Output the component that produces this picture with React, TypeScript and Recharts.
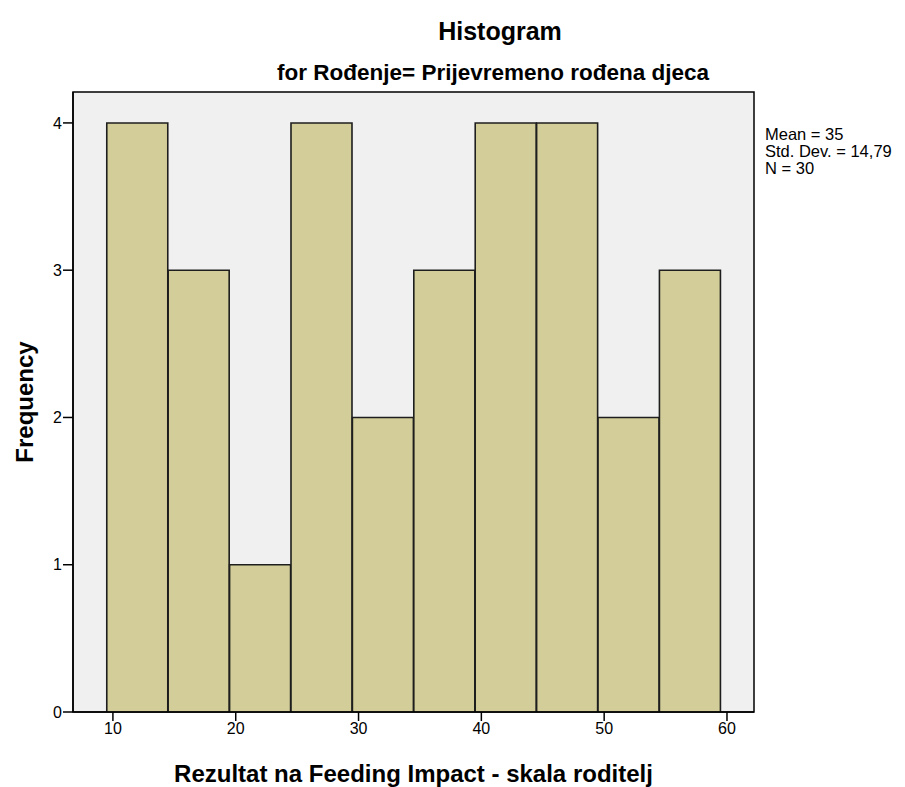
import { BarChart, Bar, XAxis, YAxis, CartesianGrid, ReferenceArea } from 'recharts';

// bin midpoints (width 5, from 9.5 to 59.5) and their counts
const binMids = [12, 17, 22, 27, 32, 37, 42, 47, 52, 57];
const counts = [4, 3, 1, 4, 2, 3, 4, 4, 2, 3];
const xTicks = [10, 20, 30, 40, 50, 60];
const yTicks = [0, 1, 2, 3, 4];
const statLines = ['Mean = 35', 'Std. Dev. = 14,79', 'N = 30'];

const X_DOMAIN: [number, number] = [6.75, 62.2];
const Y_DOMAIN: [number, number] = [0, 4.21];

const FONT = '"Liberation Sans", Arial, sans-serif';

const data = binMids.map((mid, i) => ({ mid, count: counts[i] }));

export default function App() {
    return (
        <div style={{ position: 'absolute', left: 0, top: 0, width: 905, height: 787, background: '#fff', fontFamily: FONT }}>
            <div style={{ position: 'absolute', left: 0, width: 1000, top: 17, textAlign: 'center', fontSize: 25, fontWeight: 'bold' }}>
                Histogram
            </div>
            <div style={{ position: 'absolute', left: 0, width: 986, top: 60, textAlign: 'center', fontSize: 22.5, fontWeight: 'bold' }}>
                for Rođenje= Prijevremeno rođena djeca
            </div>
            <div style={{ position: 'absolute', left: 765, top: 126, fontSize: 16.5, lineHeight: '17px', whiteSpace: 'nowrap' }}>
                {statLines.map((s) => (
                    <div key={s}>{s}</div>
                ))}
            </div>
            <div style={{ position: 'absolute', left: 0, top: 0 }}>
                <BarChart
                    width={905}
                    height={787}
                    data={data}
                    margin={{ top: 92, right: 151, bottom: 0, left: 0 }}
                    barCategoryGap={0}
                    barGap={0}
                >
                    <CartesianGrid fill="#F0F0F0" horizontal={false} vertical={false} />
                    <XAxis
                        dataKey="mid"
                        type="number"
                        domain={X_DOMAIN}
                        ticks={xTicks}
                        allowDataOverflow
                        height={75}
                        stroke="#000"
                        tickSize={9}
                        tickMargin={2}
                        tick={{ fill: '#000', fontSize: 16, fontFamily: FONT }}
                        tickLine={{ stroke: '#000', strokeWidth: 1.5 }}
                        axisLine={{ stroke: '#000', strokeWidth: 1.5 }}
                        label={{
                            value: 'Rezultat na Feeding Impact - skala roditelj',
                            position: 'insideBottom',
                            offset: 5,
                            style: { fontSize: 24, fontWeight: 'bold', fill: '#000', fontFamily: FONT },
                        }}
                    />
                    <YAxis
                        type="number"
                        domain={Y_DOMAIN}
                        ticks={yTicks}
                        allowDataOverflow
                        width={73}
                        stroke="#000"
                        tickSize={10}
                        tickMargin={1}
                        tick={{ fill: '#000', fontSize: 16, fontFamily: FONT }}
                        tickLine={{ stroke: '#000', strokeWidth: 1.5 }}
                        axisLine={{ stroke: '#000', strokeWidth: 1.5 }}
                        label={{
                            value: 'Frequency',
                            angle: -90,
                            position: 'insideLeft',
                            offset: 24,
                            style: { textAnchor: 'middle', fontSize: 24, fontWeight: 'bold', fill: '#000', fontFamily: FONT },
                        }}
                    />
                    <Bar
                        dataKey="count"
                        fill="#D3CE99"
                        stroke="#1e1e1e"
                        strokeWidth={1.6}
                        isAnimationActive={false}
                    />
                    <ReferenceArea
                        x1={X_DOMAIN[0]}
                        x2={X_DOMAIN[1]}
                        y1={Y_DOMAIN[0]}
                        y2={Y_DOMAIN[1]}
                        fill="none"
                        fillOpacity={0}
                        stroke="#000"
                        strokeWidth={1.5}
                    />
                </BarChart>
            </div>
        </div>
    );
}
